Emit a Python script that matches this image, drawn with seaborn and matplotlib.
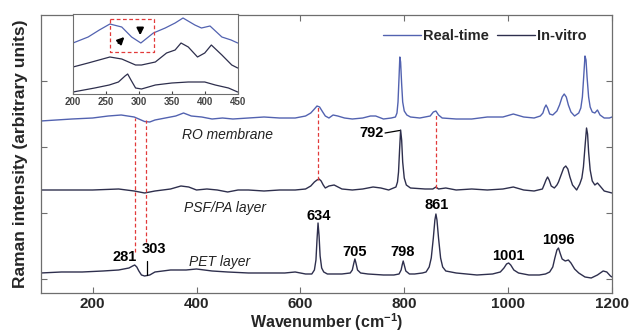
import matplotlib
matplotlib.use("Agg")
import matplotlib.pyplot as plt
import seaborn as sns
import pandas as pd
from matplotlib.lines import Line2D

# ---------------- data ----------------
# Main spectra: wavenumber (cm-1) and intensity (arbitrary units, baseline ~0)
ro_wn = [100, 130, 160, 200, 230, 255, 280, 300, 310, 320, 340, 360, 375, 390, 410, 430, 450,
         470, 500, 530, 560, 590, 610, 620, 627, 632, 637, 643, 648, 655, 663, 672, 685, 700,
         720, 735, 745, 760, 775, 783, 786, 788, 790, 791.5, 793, 795, 797, 800, 805, 812, 830,
         850, 856, 861, 866, 873, 900, 930, 960, 990, 1010, 1030, 1050, 1062, 1067, 1070, 1073,
         1076, 1080, 1086, 1090, 1094, 1099, 1104, 1108, 1112, 1116, 1121, 1128, 1136, 1140,
         1143, 1145.5, 1148, 1150, 1152, 1155, 1158, 1162, 1167, 1172, 1177, 1185, 1195, 1200]
ro_int = [1, 2, 3, 4, 6, 7, 5, 0.5, 0, 2, 4, 6, 9, 6, 5, 3, 4,
          3, 4, 5, 4, 4, 6, 9, 13, 16, 15, 10, 6, 4, 7, 6, 4, 3,
          4, 6, 6, 3, 4, 5, 9, 20, 45, 65, 60, 38, 20, 11, 7, 5, 4,
          6, 10, 11, 7, 4, 3, 3, 5, 5, 8, 5, 4, 6, 9, 14, 17,
          14, 8, 7, 9, 11, 17, 25, 28, 25, 17, 10, 6, 9, 14,
          25, 45, 66, 62, 45, 25, 15, 10, 9, 12, 7, 4, 4, 5]

psf_wn = [100, 150, 200, 250, 280, 300, 320, 350, 370, 385, 400, 420, 440, 460, 480, 500, 530,
          560, 590, 610, 620, 627, 632, 636, 640, 644, 648, 655, 665, 680, 700, 720, 740, 755,
          770, 784, 787, 789, 791, 793, 795, 797, 800, 804, 812, 840, 855, 861, 866, 880, 900,
          930, 960, 990, 1010, 1030, 1050, 1066, 1070, 1073, 1076, 1079, 1083, 1089, 1094, 1097,
          1102, 1107, 1111, 1115, 1119, 1124, 1132, 1138, 1142, 1145, 1148, 1151, 1153, 1155,
          1158, 1162, 1167, 1172, 1177, 1185, 1200]
psf_int = [2, 2, 2, 3, 1, -1, 1, 3, 6, 5, 2, 3, 2, 0, 2, 2, 1,
           2, 2, 3, 6, 10, 12, 13, 11, 7, 4, 6, 7, 3, 2, 3, 5, 4,
           2, 5, 10, 20, 42, 62, 52, 30, 14, 7, 4, 3, 3, 5, 3, 4, 2,
           3, 2, 3, 5, 2, 1, 3, 8, 12, 15, 12, 6, 4, 7, 10,
           17, 24, 26, 23, 15, 7, 2, 8, 14, 25, 45, 64, 58, 40,
           22, 11, 7, 9, 6, 1, -1]

pet_wn = [100, 140, 180, 220, 250, 260, 270, 277, 281, 285, 289, 294, 300, 310, 320, 350, 380,
          400, 430, 460, 500, 540, 570, 590, 610, 622, 627, 630, 632, 634, 636, 638, 641, 645,
          652, 680, 696, 700, 703, 705, 707, 710, 716, 730, 760, 780, 790, 794, 796, 798, 800,
          803, 810, 820, 835, 842, 848, 852, 856, 859, 861, 863, 866, 870, 874, 880, 900, 940,
          970, 985, 992, 997, 1001, 1005, 1011, 1020, 1040, 1060, 1072, 1080, 1086, 1090, 1094,
          1097, 1100, 1104, 1110, 1116, 1121, 1128, 1136, 1148, 1160, 1172, 1183, 1190, 1197,
          1200]
pet_int = [5, 6, 6, 7, 8, 9, 10, 12, 13, 11, 7, 3, 2, 3, 6, 8, 8,
           9, 7, 6, 5, 5, 5, 6, 4, 4, 8, 18, 38, 55, 42, 22, 10, 6,
           4, 4, 5, 8, 15, 19, 15, 8, 5, 4, 3, 3, 4, 8, 13, 17, 13,
           7, 4, 4, 5, 6, 11, 20, 40, 58, 64, 58, 40, 20, 11, 7, 5, 3,
           4, 6, 10, 14, 15, 13, 8, 5, 3, 3, 4, 6, 11, 20, 28,
           30, 25, 19, 17, 18, 15, 9, 5, 1, 0, 3, 7, 6, 2,
           1]

spectra = ["RO membrane", "PSF/PA layer", "PET layer"]
offsets = [178, 108, 22]
sources = ["Real-time", "In-vitro", "In-vitro"]

# Inset (200-450 cm-1), intensity in arbitrary units
ins_ro_wn = [200, 223, 240, 256, 274, 289, 303, 322, 340, 355, 367, 385, 395, 408, 426, 440, 450]
ins_ro_int = [57, 63, 70, 76, 73, 63, 57, 67, 72, 77, 82, 75, 72, 74, 63, 60, 57]
ins_psf_wn = [200, 223, 256, 274, 295, 304, 325, 342, 355, 364, 375, 389, 400, 410, 426, 441, 450]
ins_psf_int = [33, 37, 43, 41, 35, 35, 38, 47, 50, 57, 53, 43, 47, 55, 45, 35, 32]
ins_pet_wn = [200, 233, 255, 269, 279, 283, 288, 295, 304, 325, 350, 375, 400, 416, 436, 450]
ins_pet_int = [8, 12, 15, 18, 24, 26, 20, 12, 11, 15, 17, 18, 18, 15, 12, 8]

peak_labels = ["281", "303", "634", "705", "798", "861", "1001", "1096", "792"]
marker_wn = [281, 303, 634, 861]

# ---------------- style ----------------
sns.set_style("ticks")
plt.rcParams["font.family"] = ["Liberation Sans", "DejaVu Sans"]
plt.rcParams["mathtext.fontset"] = "custom"
plt.rcParams["mathtext.rm"] = "Liberation Sans"
plt.rcParams["mathtext.bf"] = "Liberation Sans:bold"

BLUE = "#5262b0"
DARK = "#2e2f4d"
RED = "#e23a3a"
SPINE = "#6e6e6e"

fig = plt.figure(figsize=(6.33, 3.35), dpi=100)
ax = fig.add_axes([0.0643, 0.1254, 0.9025, 0.8298])

data = [(ro_wn, ro_int), (psf_wn, psf_int), (pet_wn, pet_int)]
for (wn, inten), off, src in zip(data, offsets, sources):
    df = pd.DataFrame({"wn": wn, "I": [v + off for v in inten]})
    sns.lineplot(data=df, x="wn", y="I", ax=ax, color=BLUE if src == "Real-time" else DARK,
                 lw=1.0, sort=False, estimator=None)

ax.set_xlim(100, 1200)
ax.set_ylim(7, 285)
ax.set_xticks([200, 400, 600, 800, 1000, 1200])
ax.set_yticks([21, 87, 153, 219])
ax.set_yticklabels([])
ax.tick_params(axis="both", direction="in", length=4, color=SPINE, top=True, right=True,
               labelsize=11, pad=3)
for lbl in ax.get_xticklabels():
    lbl.set_fontweight("bold")
for s in ax.spines.values():
    s.set_color(SPINE)
    s.set_linewidth(0.9)

ax.set_xlabel(r"Wavenumber (cm$^{\mathbf{-1}}$)", fontsize=11.5, fontweight="bold", labelpad=0)
ax.set_ylabel("Raman intensity (arbitrary units)", fontsize=12.5, fontweight="bold", labelpad=6)

# red dashed marker lines
marker_ext = [(48, 182), (58, 180), (120, 195), (112, 185)]
for w, (y0, y1) in zip(marker_wn, marker_ext):
    ax.plot([w, w], [y0, y1], color=RED, lw=0.9, ls=(0, (3, 2)))

# peak labels
lab_pos = [(262, 43), (318, 51), (636, 84), (705, 48), (797, 48), (863, 95), (1000, 44),
           (1097, 60), (761, 167)]
for t, (x, y) in zip(peak_labels, lab_pos):
    ha = "right" if t == "792" else "center"
    ax.text(x, y, t, ha=ha, va="center", fontsize=10.5, fontweight="bold", color="black")
ax.plot([304, 304], [25, 39], color="black", lw=0.9)
ax.plot([763, 791], [167, 169.5], color="black", lw=0.9)

# spectrum names
name_pos = [(459, 165), (454, 92), (445, 38)]
for name, (x, y) in zip(spectra, name_pos):
    ax.text(x, y, name, ha="center", va="center", fontsize=10, fontstyle="italic", color="#222222")

# legend
handles = [Line2D([], [], color=BLUE, lw=1.0), Line2D([], [], color=DARK, lw=1.0)]
leg = ax.legend(handles, ["Real-time", "In-vitro"], ncol=2, frameon=False,
                loc="center left", bbox_to_anchor=(0.577, 0.925), handlelength=2.6,
                handletextpad=0.1, columnspacing=0.6, prop={"weight": "bold", "size": 10.5})

# ---------------- inset ----------------
ins = fig.add_axes([0.1153, 0.7194, 0.2602, 0.2388])
ins_data = [(ins_ro_wn, ins_ro_int, BLUE), (ins_psf_wn, ins_psf_int, DARK),
            (ins_pet_wn, ins_pet_int, DARK)]
for wn, inten, c in ins_data:
    df = pd.DataFrame({"wn": wn, "I": inten})
    sns.lineplot(data=df, x="wn", y="I", ax=ins, color=c, lw=0.9, sort=False, estimator=None)
ins.set_xlim(200, 450)
ins.set_ylim(6, 86)
ins.set_xticks([200, 250, 300, 350, 400, 450])
ins.set_yticks([])
ins.set_xlabel("")
ins.set_ylabel("")
ins.tick_params(axis="x", direction="in", length=2, labelsize=7, pad=2, colors="#444444")
for lbl in ins.get_xticklabels():
    lbl.set_fontweight("bold")
for s in ins.spines.values():
    s.set_color(SPINE)
    s.set_linewidth(0.8)
# dashed box and arrows
ins.plot([256, 323, 323, 256, 256], [81, 81, 48, 48, 81], color=RED, lw=0.9, ls=(0, (3, 2)))
ins.annotate("", xy=(281, 65), xytext=(266, 55),
             arrowprops=dict(arrowstyle="-|>", color="black", lw=1.4, mutation_scale=10))
ins.annotate("", xy=(302, 62), xytext=(302, 74),
             arrowprops=dict(arrowstyle="-|>", color="black", lw=1.4, mutation_scale=10))

fig.savefig("out.png", dpi=100)
